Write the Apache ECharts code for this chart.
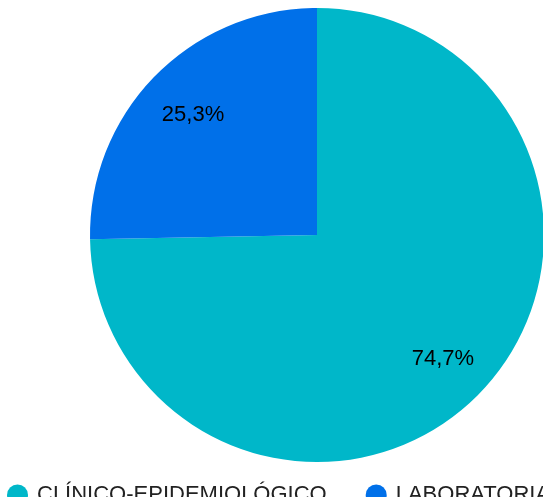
<!DOCTYPE html>
<html><head><meta charset="utf-8">
<script src="https://cdn.jsdelivr.net/npm/echarts@6/dist/echarts.min.js"></script>
<style>html,body{margin:0;padding:0;background:#fff}#c{width:543px;height:497px}</style>
</head><body><div id="c"></div>
<script>
const categories = ['CLÍNICO-EPIDEMIOLÓGICO', 'LABORATORIAL'];
const values = [74.7, 25.3];
const colors = ['#00B7C9', '#0070E9'];
const labelOffsets = [[0, 0], [2, 4]];

const data = categories.map((n, i) => ({ name: n, value: values[i], itemStyle: { color: colors[i] } }));
const chart = echarts.init(document.getElementById('c'));
chart.setOption({
  animation: false,
  legend: {
    left: 2, top: 479, width: 1200, orient: 'horizontal', itemWidth: 21, itemHeight: 21, itemGap: 39, icon: 'circle',
    textStyle: { fontFamily: 'Liberation Sans, Arial', fontSize: 22, color: '#222', padding: [0, 0, 0, 4] },
    data: categories
  },
  series: [{
    type: 'pie', center: [317, 235], radius: [0, 227], startAngle: 90, clockwise: true,
    label: { show: false }, labelLine: { show: false }, silent: true,
    data: data
  }, {
    type: 'pie', center: [317, 235], radius: [120, 227], startAngle: 90, clockwise: true,
    silent: true, itemStyle: { color: 'transparent' },
    label: { show: true, position: 'inside', fontFamily: 'Liberation Sans, Arial', fontSize: 22, color: '#000',
      formatter: p => p.value.toFixed(1).replace('.', ',') + '%' },
    labelLine: { show: false },
    data: categories.map((n, i) => ({ name: n, value: values[i], itemStyle: { color: 'transparent' },
      label: { offset: labelOffsets[i] } }))
  }]
});
</script></body></html>
